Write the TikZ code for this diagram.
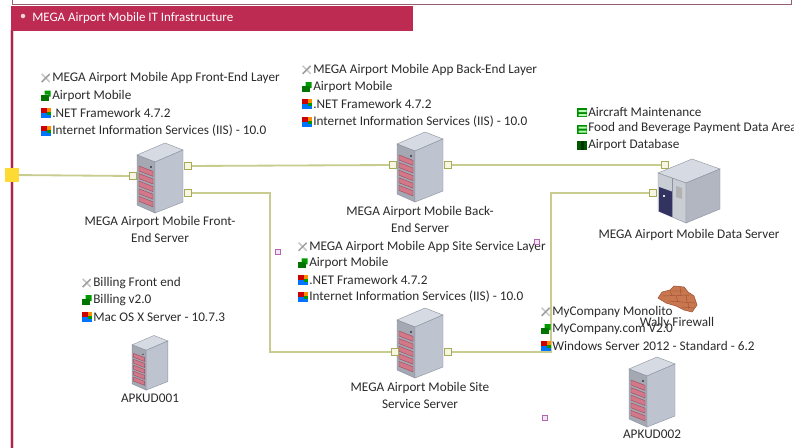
\documentclass[tikz,border=0pt]{standalone}
\usepackage{fontspec}
\setmainfont{Carlito}
\usetikzlibrary{positioning, arrows.meta}

\definecolor{crimson}{HTML}{BE2B52}
\definecolor{wire}{HTML}{C9CC8F}
\definecolor{portedge}{HTML}{A6AB5A}
\definecolor{portfill}{HTML}{F6F6E2}
\definecolor{txt}{HTML}{2B2B2B}
\definecolor{towertop}{HTML}{D6DBE3}
\definecolor{towerfront}{HTML}{A3A8B3}
\definecolor{towerside}{HTML}{BDC4D0}
\definecolor{edge}{HTML}{8D93A0}
\definecolor{slot}{HTML}{D27888}
\definecolor{slotedge}{HTML}{A04A5C}
\definecolor{brick}{HTML}{C8774F}
\definecolor{brickdark}{HTML}{9E5335}

\tikzset{
  % server tower, 46 x 72 px
  pics/tower/.style={code={
    \begin{scope}[line width=0.3pt]
    \filldraw[draw=edge, fill=towertop] (-23,-22) -- (5,-34) -- (23,-27) -- (-5,-15) -- cycle;
    \filldraw[draw=edge, fill=towerfront] (-23,-22) -- (-5,-15) -- (-5,36) -- (-23,28) -- cycle;
    \filldraw[draw=edge, fill=towerside] (-5,-15) -- (23,-27) -- (23,25) -- (-5,36) -- cycle;
    \foreach \k in {0,...,4}
      \filldraw[draw=slotedge, fill=slot] (-21,-11+7.6*\k) -- (-7,-5.6+7.6*\k) -- (-7,-0.6+7.6*\k) -- (-21,-6+7.6*\k) -- cycle;
    \fill[black] (-9,-10) circle (0.6pt);
    \end{scope}
  }},
  % storage box, 62 x 68 px
  pics/databox/.style={code={
    \begin{scope}[line width=0.3pt]
    \filldraw[draw=edge, fill=towertop] (-31,-16) -- (3,-30) -- (31,-20) -- (-3,-6) -- cycle;
    \filldraw[draw=edge, fill=towertop!85!gray] (-31,-16) -- (-3,-6) -- (-3,34) -- (-31,22) -- cycle;
    \filldraw[draw=edge, fill=towerside!80!gray] (-3,-6) -- (31,-20) -- (31,20) -- (-3,34) -- cycle;
    \fill[black!70!blue!60!gray] (-30,-2) -- (-17,2.6) -- (-17,28) -- (-30,22.4) -- cycle;
    \fill[gray!60] (-13,-3) -- (-7,-1) -- (-7,10) -- (-13,8) -- cycle;
    \fill[white!80!gray] (-26,6) rectangle (-24,8);
    \draw[edge] (-17,-11) -- (-17,28);
    \end{scope}
  }},
  % brick wall of the firewall
  pics/bricks/.style={code={
    \filldraw[fill=brick, draw=brickdark, line width=0.4pt] (-20,-1) -- (-16,-7) -- (-8,-9) -- (-4,-13) -- (6,-12) -- (10,-7) -- (16,-3) -- (19,6) -- (14,13) -- (6,11) -- (-2,7) -- (-12,4) -- cycle;
    \draw[brickdark, line width=0.3pt] (-16,-3) -- (12,-4) (-10,2) -- (17,4) (-6,-8) -- (6,-8) (4,8) -- (16,9)
      (-8,-9) -- (-6,-3) (2,-12) -- (3,-4) (8,-4) -- (9,3) (-2,-3) -- (0,3) (10,4) -- (11,10);
  }},
  % small list icons, 10 x 10 px
  pics/wrench/.style={code={
    \draw[gray!45, line width=1.1pt] (-4,-4) -- (4,4);
    \draw[gray!75, line width=1.1pt] (-4,4) -- (4,-4);
  }},
  pics/app/.style={code={
    \fill[green!45!black] (-5,-1) rectangle (3,5);
    \fill[green!60!black] (-1,-5) -- (5,-5) -- (5,1) -- (3,1) -- (3,-1) -- (-1,-1) -- cycle;
  }},
  pics/win/.style={code={
    \fill[blue!55!cyan] (-5,-5) rectangle (5,5);
    \fill[red!80!black] (-5,-5) rectangle (1,0);
    \fill[orange!90!yellow] (1,-5) rectangle (5,-1);
    \fill[green!60!black] (1,-1) rectangle (5,2);
  }},
  pics/db/.style={code={
    \fill[green!55!black] (-5,-4) rectangle (5,5);
    \fill[green!30] (-3,-2) rectangle (5,0) (-3,2) rectangle (5,4);
  }},
  pics/dbdark/.style={code={
    \fill[green!35!black] (-5,-4) rectangle (5,5);
    \fill[black!80!green] (-1,-4) rectangle (2,5);
  }},
  srv/.style={minimum width=32.6pt, minimum height=51pt, inner sep=0pt},
  srvlabel/.style={font=\fontsize{9.4}{12.2}\selectfont, text=txt, align=center, inner sep=1pt},
  prop/.style={font=\fontsize{9.4}{10}\selectfont, text=txt, anchor=west, inner sep=0pt},
  port/.style={draw=portedge, fill=portfill, line width=0.8pt, minimum size=5pt, inner sep=0pt},
  wire/.style={draw=wire, line width=1.3pt},
  glyph/.style={draw=violet!60, fill=violet!10, line width=0.5pt, minimum size=4pt, inner sep=0pt}
}

\begin{document}
\begin{tikzpicture}[x=0.025cm, y=-0.025cm]
\useasboundingbox (0,0) rectangle (794,447);
\clip (0,0) rectangle (794,447);
\fill[white] (0,0) rectangle (794,447);

% outer container and title bar
\draw[crimson!40!gray, line width=0.6pt] (12,-5) -- (12,4) -- (791,4) -- (791,-5);
\draw[crimson!25, line width=3.4pt] (12,30) -- (12,450);
\draw[crimson!90!black, line width=1.6pt] (12,30) -- (12,450);
\node[fill=crimson, anchor=north west, minimum width=285.7pt, minimum height=17.7pt, inner sep=0pt] (bar) at (11,5.5) {};
\fill[white!80!crimson] (23,16) circle (1.6pt);
\node[font=\fontsize{9.2}{10}\selectfont, text=white, anchor=west, inner sep=0pt] (title) at (32,18) {MEGA Airport Mobile IT Infrastructure};

% servers
\node[srv] (fe) at (160,177) {};
\pic at (fe) {tower};
\node[srvlabel, below=1pt of fe] (fe-name) {MEGA Airport Mobile Front-\\End Server};

\node[srv] (be) at (420,166) {};
\pic at (be) {tower};
\node[srvlabel, below=2pt of be] (be-name) {MEGA Airport Mobile Back-\\End Server};

\node[srv] (ss) at (420,342) {};
\pic at (ss) {tower};
\node[srvlabel, below=2pt of ss] (ss-name) {MEGA Airport Mobile Site\\Service Server};

\node[minimum width=44pt, minimum height=48pt, inner sep=0pt] (ds) at (689,189) {};
\pic at (ds) {databox};
\node[srvlabel, below=3pt of ds] (ds-name) {MEGA Airport Mobile Data Server};

\node[minimum width=25.5pt, minimum height=40pt, inner sep=0pt] (ap1) at (150,362) {};
\pic[scale=0.78] at (ap1) {tower};
\node[srvlabel, below=1pt of ap1] (ap1-name) {APKUD001};

\node[srv] (ap2) at (652,391) {};
\pic at (ap2) {tower};
\node[srvlabel, below=1pt of ap2] (ap2-name) {APKUD002};

\node[minimum width=28pt, minimum height=19pt, inner sep=0pt] (fw) at (678,299) {};
\pic at (fw) {bricks};

% ports
\node[port] (fe-l) at (133,176) {};
\node[port] (fe-r1) at (188,166) {};
\node[port] (fe-r2) at (188,193) {};
\node[port] (be-l) at (393,165) {};
\node[port] (be-r) at (448,165) {};
\node[port] (ss-l) at (395,352) {};
\node[port] (ss-r) at (448,352) {};
\node[port] (ds-t) at (665,165) {};
\node[port] (ds-b) at (653,193) {};
\node[fill=yellow!70!orange!80, minimum size=9.5pt, inner sep=0pt] (entry) at (12,175) {};

% connections
\draw[wire] (entry) -- (fe-l);
\draw[wire] (fe-r1) -- (be-l);
\draw[wire] (be-r) -- (ds-t);
\draw[wire] (fe-r2) -- ++(82,0) |- (ss-l);
\draw[wire] (ss-r) -- ++(103,0) |- (ds-b);

% deployed components
\foreach \ic/\txt [count=\i] in {wrench/MEGA Airport Mobile App Front-End Layer, app/Airport Mobile, win/.NET Framework 4.7.2, win/Internet Information Services (IIS) - 10.0}{
  \node[prop] (fe-\i) at (52, 60.5+17.5*\i) {\txt};
  \pic at ([xshift=-4.5pt]fe-\i.west) {\ic};
}
\foreach \ic/\txt [count=\i] in {wrench/MEGA Airport Mobile App Back-End Layer, app/Airport Mobile, win/.NET Framework 4.7.2, win/Internet Information Services (IIS) - 10.0}{
  \node[prop] (be-\i) at (313, 52.5+17.3*\i) {\txt};
  \pic at ([xshift=-4.5pt]be-\i.west) {\ic};
}
\foreach \ic/\txt [count=\i] in {db/Aircraft Maintenance, db/Food and Beverage Payment Data Area, dbdark/Airport Database}{
  \node[prop] (ds-\i) at (588, 95.5+16.5*\i) {\txt};
  \pic at ([xshift=-4.5pt]ds-\i.west) {\ic};
}
\foreach \ic/\txt [count=\i] in {wrench/MEGA Airport Mobile App Site Service Layer, app/Airport Mobile, win/.NET Framework 4.7.2, win/Internet Information Services (IIS) - 10.0}{
  \node[prop] (ss-\i) at (309, 230+16.7*\i) {\txt};
  \pic at ([xshift=-4.5pt]ss-\i.west) {\ic};
}
\foreach \ic/\txt [count=\i] in {wrench/Billing Front end, app/Billing v2.0, win/Mac OS X Server - 10.7.3}{
  \node[prop] (ap1-\i) at (93, 266+17*\i) {\txt};
  \pic at ([xshift=-4.5pt]ap1-\i.west) {\ic};
}
\foreach \ic/\txt [count=\i] in {wrench/MyCompany Monolito, app/MyCompany.com V2.0, win/Windows Server 2012 - Standard - 6.2}{
  \node[prop] (ap2-\i) at (552, 294.5+17.3*\i) {\txt};
  \pic at ([xshift=-4.5pt]ap2-\i.west) {\ic};
}
\node[srvlabel] (fw-name) at (677,323) {Wally Firewall};

% small note glyphs
\node[glyph] (g1) at (278,252) {};
\node[glyph] (g2) at (537,242) {};
\node[glyph] (g3) at (545,418) {};
\end{tikzpicture}
\end{document}
